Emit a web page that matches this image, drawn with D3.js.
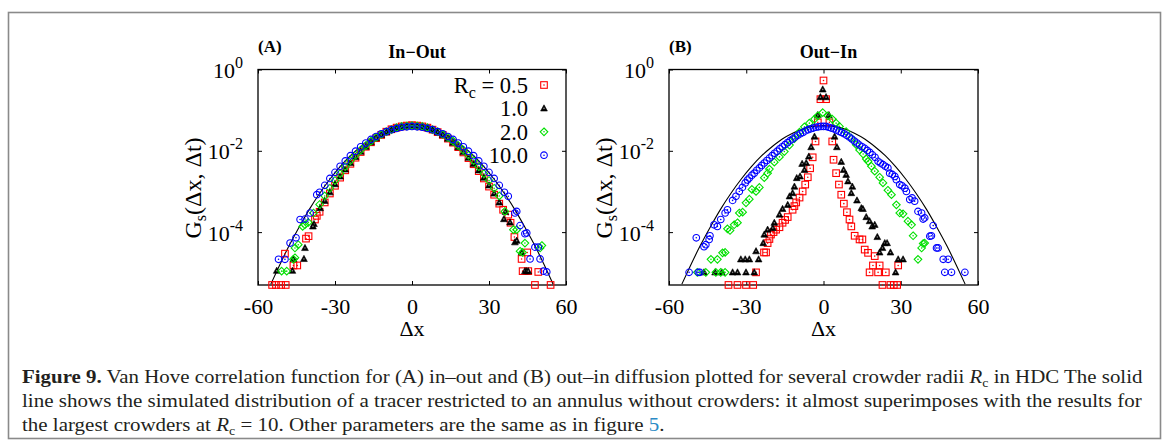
<!DOCTYPE html>
<html>
<head>
<meta charset="utf-8">
<script src="https://cdn.jsdelivr.net/npm/d3@7/dist/d3.min.js"></script>
<style>
  body { margin: 0; background: #fff; }
  svg { display: block; }
</style>
</head>
<body>
<svg id="fig" width="1168" height="446"></svg>
<script>
// Van Hove correlation, two panels (in-out / out-in)

// tick values
const xTicks = [-60, -30, 0, 30, 60];
const yTickExps = [0, -2, -4];
const legendLabels = ["0.5", "1.0", "2.0", "10.0"];

// all series: [Δx, log10 Gs]
// reference line (annulus without crowders), same in both panels
const freeLine = [[-55,-5.28],[-52,-4.87],[-48,-4.35],[-44,-3.88],[-40,-3.44],[-36,-3.05],[-32,-2.70],[-28,-2.39],[-24,-2.12],[-20,-1.90],[-16,-1.71],[-12,-1.57],[-8,-1.46],[-4,-1.40],[0,-1.38],[4,-1.40],[8,-1.46],[12,-1.57],[16,-1.71],[20,-1.90],[24,-2.12],[28,-2.39],[32,-2.70],[36,-3.05],[40,-3.44],[44,-3.88],[48,-4.35],[52,-4.87],[55,-5.28]];

// (A) In-Out
const aRc05 = [[-36,-3.50],[-34,-3.27],[-32,-3.05],[-30,-2.86],[-28,-2.66],[-26,-2.48],[-24,-2.32],[-22,-2.17],[-20,-2.03],[-18,-1.90],[-16,-1.79],[-14,-1.69],[-12,-1.61],[-10,-1.53],[-8,-1.47],[-6,-1.43],[-4,-1.40],[-2,-1.38],[0,-1.37],[2,-1.38],[4,-1.40],[6,-1.43],[8,-1.48],[10,-1.54],[12,-1.61],[14,-1.70],[16,-1.80],[18,-1.91],[20,-2.04],[22,-2.18],[24,-2.33],[26,-2.50],[28,-2.68],[30,-2.88],[32,-3.08],[34,-3.30],
  [-37.1,-3.60],[-37.8,-3.69],[-40.3,-4.10],[-41.3,-4.16],[-44.7,-4.82],[-46.2,-4.82],[-49.5,-4.53],[-54.5,-5.30],[-53,-5.30],[-51,-5.30],[-49.2,-5.30],
  [35.5,-3.45],[37.5,-3.57],[38.4,-3.77],[39.9,-4.12],[42.7,-4.66],[44.9,-4.50],[43.1,-4.96],[45.3,-4.96],[49.2,-4.98],[47.9,-5.30],[54.0,-5.30]];
const aRc1 = [[-34,-3.23],[-32,-3.02],[-30,-2.82],[-28,-2.63],[-26,-2.46],[-24,-2.30],[-22,-2.15],[-20,-2.02],[-18,-1.90],[-16,-1.79],[-14,-1.69],[-12,-1.61],[-10,-1.54],[-8,-1.48],[-6,-1.44],[-4,-1.41],[-2,-1.39],[0,-1.38],[2,-1.39],[4,-1.41],[6,-1.44],[8,-1.48],[10,-1.54],[12,-1.61],[14,-1.70],[16,-1.80],[18,-1.91],[20,-2.03],[22,-2.17],[24,-2.32],[26,-2.48],[28,-2.66],[30,-2.85],[32,-3.05],[34,-3.27],
  [-35.8,-3.41],[-38.2,-3.80],[-38.6,-3.86],[-41.7,-4.39],[-42.1,-4.66],[-46.2,-4.66],[-46.6,-4.95],[-52.7,-4.95],
  [35.8,-3.68],[36.4,-3.50],[38.2,-3.76],[40.1,-4.25],[40.8,-4.21],[42.7,-4.50],[44.0,-4.96],[44.7,-4.96],[45.3,-4.96]];
const aRc2 = [[-36,-3.32],[-34,-3.11],[-32,-2.92],[-30,-2.73],[-28,-2.56],[-26,-2.39],[-24,-2.24],[-22,-2.11],[-20,-1.98],[-18,-1.87],[-16,-1.76],[-14,-1.67],[-12,-1.60],[-10,-1.53],[-8,-1.48],[-6,-1.43],[-4,-1.40],[-2,-1.39],[0,-1.38],[2,-1.39],[4,-1.40],[6,-1.43],[8,-1.48],[10,-1.53],[12,-1.60],[14,-1.67],[16,-1.76],[18,-1.87],[20,-1.98],[22,-2.11],[24,-2.24],[26,-2.39],[28,-2.56],[30,-2.73],[32,-2.92],[34,-3.11],
  [-38.4,-3.53],[-40.4,-3.76],[-41.7,-3.82],[-42.6,-3.86],[-44.3,-4.31],[-45.6,-4.39],[-45.6,-4.63],[-46.2,-4.67],[-48.8,-4.96],[-50.8,-4.96],
  [36.2,-3.49],[39.5,-3.94],[40.8,-3.94],[42.1,-4.47],[43.1,-4.50],[44.0,-4.27],[49.9,-4.39],[50.6,-4.33]];
const aRc10 = [[-36,-3.02],[-34,-2.85],[-32,-2.68],[-30,-2.53],[-28,-2.38],[-26,-2.25],[-24,-2.12],[-22,-2.01],[-20,-1.90],[-18,-1.81],[-16,-1.72],[-14,-1.65],[-12,-1.58],[-10,-1.53],[-8,-1.48],[-6,-1.45],[-4,-1.42],[-2,-1.41],[0,-1.40],[2,-1.41],[4,-1.42],[6,-1.45],[8,-1.48],[10,-1.53],[12,-1.58],[14,-1.65],[16,-1.72],[18,-1.81],[20,-1.90],[22,-2.01],[24,-2.12],[26,-2.25],[28,-2.38],[30,-2.53],[32,-2.68],[34,-2.85],[36,-3.02],
  [-37.1,-3.08],[-39.7,-3.53],[-41.7,-3.68],[-43.6,-3.69],[-45.2,-4.14],[-47.5,-4.27],[-49.5,-4.67],[-52.0,-4.67],
  [37.5,-3.12],[40.1,-3.53],[40.8,-3.49],[42.1,-3.84],[44.0,-4.04],[44.7,-4.02],[46.0,-4.66],[47.9,-4.37],[49.2,-4.37],[49.9,-4.66],[51.2,-4.96],[52.5,-4.98]];

// (B) Out-In
const bRc05 = [[-36.9,-5.30],[-33.4,-5.30],[-30.1,-5.30],[-27.3,-5.30],[-26.2,-4.99],[-23.1,-4.50],[-22.3,-4.50],[-21.7,-4.27],[-21.0,-4.17],[-20.4,-4.06],[-19.4,-4.00],[-18.4,-3.94],[-17.1,-3.88],[-15.9,-3.77],[-14.9,-3.70],[-13.9,-3.63],[-12.0,-3.45],[-11.3,-3.36],[-10.6,-3.27],[-9.3,-3.15],[-8.1,-3.00],[-7.1,-2.83],[-6.1,-2.65],[-5.2,-2.43],[-4.2,-2.16],[-3.1,-1.77],[-2.2,-1.30],[-1.2,-0.73],[0,-0.27],[1.0,-0.73],[2.3,-1.30],[3.4,-1.77],[3.9,-2.22],[4.9,-2.55],[6.0,-2.83],[6.9,-3.08],[7.9,-3.30],[9.1,-3.51],[10.1,-3.69],[10.8,-3.86],[12.1,-4.09],[14.0,-4.18],[15.1,-4.18],[16.0,-4.43],[17.3,-4.51],[19.9,-4.59],[19.2,-4.82],[21.8,-4.82],[17.9,-4.99],[21.2,-4.99],[24.2,-4.99],[29.0,-4.82],[22.9,-5.30],[26.0,-5.30],[27.3,-5.30],[28.6,-5.30]];
const bRc1 = [[-46.4,-4.99],[-42.1,-4.99],[-39.5,-4.99],[-35.3,-4.99],[-33.4,-4.99],[-30.1,-4.99],[-26.9,-4.99],[-32.1,-4.67],[-30.4,-4.67],[-28.8,-4.67],[-25.2,-4.67],[-26.2,-4.47],[-23.4,-4.27],[-23.0,-4.06],[-21.7,-3.94],[-19.7,-3.90],[-19.1,-3.77],[-17.1,-3.57],[-15.9,-3.43],[-13.9,-3.33],[-13.2,-3.12],[-12.0,-3.04],[-11.3,-2.88],[-10.4,-2.67],[-9.1,-2.63],[-8.3,-2.32],[-7.4,-2.47],[-6.7,-2.30],[-5.7,-2.14],[-4.8,-1.91],[-3.5,-1.65],[-2.2,-1.12],[-1.2,-0.68],[-0.3,-0.49],[1.0,-0.68],[2.1,-1.12],[4.3,-1.65],[5.2,-1.91],[6.9,-2.27],[7.8,-2.47],[8.8,-2.59],[9.5,-2.75],[10.8,-3.04],[11.2,-2.88],[13.0,-3.22],[14.7,-3.41],[15.3,-3.43],[16.6,-3.63],[17.9,-3.73],[18.9,-3.86],[19.9,-3.82],[20.9,-4.12],[21.8,-4.50],[22.9,-4.39],[23.8,-4.27],[24.7,-4.27],[26.0,-4.50],[29.0,-4.67],[30.9,-4.67],[28.0,-4.99]];
const bRc2 = [[-49.0,-4.99],[-45.7,-4.99],[-41.8,-4.99],[-39.9,-4.99],[-38.2,-4.99],[-43.7,-4.67],[-41.2,-4.67],[-39.2,-4.51],[-38.2,-4.50],[-37.3,-3.92],[-36.3,-3.96],[-34.7,-3.82],[-33.4,-3.77],[-32.7,-3.53],[-31.4,-3.51],[-30.1,-3.28],[-28.8,-3.19],[-27.8,-2.95],[-26.2,-3.00],[-24.9,-2.90],[-23.0,-2.66],[-21.7,-2.55],[-21.0,-2.45],[-19.1,-2.28],[-17.1,-2.15],[-15.2,-2.02],[-13.2,-1.86],[-11.3,-1.70],[-9.3,-1.54],[-7.4,-1.41],[-5.5,-1.32],[-3.5,-1.22],[-2.2,-1.14],[-0.3,-1.06],[1.7,-1.14],[3.4,-1.22],[4.9,-1.32],[6.2,-1.40],[8.8,-1.53],[10.8,-1.69],[12.7,-1.85],[14.0,-1.98],[15.4,-2.08],[16.6,-2.20],[17.3,-2.26],[18.6,-2.38],[19.9,-2.50],[21.8,-2.65],[23.1,-2.79],[25.0,-2.97],[26.4,-3.08],[28.3,-3.33],[29.6,-3.53],[30.9,-3.55],[32.8,-3.73],[34.2,-3.82],[34.8,-4.09],[36.7,-4.67],[38.1,-4.39],[38.7,-4.28],[39.3,-4.27]];
const bRc10 = [[-52.2,-4.99],[-48.6,-4.99],[-48.0,-4.99],[-49.4,-4.14],[-46.4,-4.36],[-45.7,-4.31],[-44.4,-4.18],[-44.1,-4.09],[-42.5,-3.82],[-41.2,-3.86],[-39.9,-3.69],[-38.2,-3.53],[-37.3,-3.45],[-35.3,-3.22],[-34.0,-3.12],[-32.7,-3.00],[-31.5,-2.90],[-30.4,-2.79],[-29.5,-2.72],[-28.8,-2.67],[-27.8,-2.60],[-26.9,-2.55],[-25.9,-2.48],[-24.9,-2.42],[-24,-2.36],[-23.0,-2.30],[-22,-2.24],[-21,-2.18],[-20,-2.12],[-19,-2.06],[-18,-2.01],[-17,-1.95],[-16,-1.90],[-15,-1.85],[-14,-1.80],[-13,-1.75],[-12,-1.71],[-11,-1.66],[-10,-1.62],[-9,-1.58],[-8,-1.55],[-7,-1.51],[-6,-1.48],[-5,-1.46],[-4,-1.44],[-3,-1.42],[-2,-1.41],[-1,-1.40],[0,-1.40],[1,-1.40],[2,-1.42],[3,-1.44],[4,-1.46],[5,-1.49],[6,-1.52],[7,-1.55],[8,-1.58],[9,-1.62],[10,-1.66],[11,-1.71],[12,-1.76],[13,-1.81],[14,-1.86],[15,-1.90],[16,-1.94],[17,-1.99],[18,-2.04],[19,-2.10],[20,-2.16],[21.2,-2.26],[22.1,-2.30],[23.1,-2.34],[24.0,-2.38],[25.0,-2.42],[25.7,-2.55],[26.7,-2.58],[27.7,-2.63],[28.3,-2.71],[29.6,-2.83],[30.5,-2.86],[31.6,-2.92],[32.2,-3.00],[33.5,-3.20],[34.4,-3.16],[35.4,-3.24],[36.7,-3.49],[38.1,-3.53],[38.7,-3.68],[39.3,-3.65],[41.3,-4.10],[41.9,-4.09],[42.6,-3.84],[43.9,-4.39],[44.5,-4.39],[46.5,-4.67],[48.4,-4.67],[47.1,-4.99],[49.7,-4.99],[54.9,-4.99]];

// marker style per crowder radius (same order as legendLabels)
const markerColors = ["#ff0000", "#000000", "#00e000", "#0000ff"];
const markerShapes = ["square", "triangle", "diamond", "circle"];

const SERIF = "'Liberation Serif', 'Times New Roman', serif";
const svg = d3.select("#fig");

// outer frame of the figure
svg.append("rect")
  .attr("x", 8.5).attr("y", 12.5)
  .attr("width", 1152).attr("height", 426)
  .attr("fill", "none")
  .attr("stroke", "#8a8a8a")
  .attr("stroke-width", 1.6);

function drawMarker(sel, shape, color) {
  if (shape === "square") {
    sel.append("rect").attr("x", -3.3).attr("y", -3.3).attr("width", 6.6).attr("height", 6.6)
      .attr("fill", "none").attr("stroke", color).attr("stroke-width", 1.1);
  } else if (shape === "triangle") {
    sel.append("path").attr("d", "M0,-3.6L3.4,2.6L-3.4,2.6Z")
      .attr("fill", color).attr("stroke", color).attr("stroke-width", 0.6);
  } else if (shape === "diamond") {
    sel.append("path").attr("d", "M0,-3.8L3.8,0L0,3.8L-3.8,0Z")
      .attr("fill", "none").attr("stroke", color).attr("stroke-width", 1.1);
  } else {
    sel.append("circle").attr("r", 3.3)
      .attr("fill", "none").attr("stroke", color).attr("stroke-width", 1.1);
  }
  // little centre dot
  sel.append("circle").attr("r", 0.8).attr("fill", shape === "triangle" ? "#888" : color);
}

function drawPanel(opts) {
  const { left, right, top, bottom, tag, title, series, legend } = opts;

  const x = d3.scaleLinear().domain([-60, 60]).range([left, right]);
  const y = d3.scaleLog().domain([5e-6, 1]).range([bottom, top]);

  const g = svg.append("g");
  const clipId = "clip-" + tag;
  svg.append("clipPath").attr("id", clipId)
    .append("rect").attr("x", left).attr("y", top)
    .attr("width", right - left).attr("height", bottom - top);

  // bottom axis with labels, ticks pointing inward
  const xAxis = g.append("g")
    .attr("transform", `translate(0,${bottom})`)
    .call(d3.axisBottom(x).tickValues(xTicks).tickSize(-4).tickPadding(13).tickFormat(d => String(d)));
  xAxis.select(".domain").remove();
  xAxis.selectAll("text").attr("font-family", SERIF).attr("font-size", 22).attr("fill", "#000");

  // top axis, ticks only
  const xTop = g.append("g")
    .attr("transform", `translate(0,${top})`)
    .call(d3.axisTop(x).tickValues(xTicks).tickSize(-4).tickFormat(""));
  xTop.select(".domain").remove();

  // left axis with 10^n labels
  const yAxis = g.append("g")
    .attr("transform", `translate(${left},0)`)
    .call(d3.axisLeft(y).tickValues(yTickExps.map(e => Math.pow(10, e))).tickSize(-4).tickPadding(15).tickFormat(""));
  yAxis.select(".domain").remove();
  yAxis.selectAll(".tick").each(function(d) {
    const e = Math.round(Math.log10(d));
    const t = d3.select(this).append("text")
      .attr("x", -15).attr("y", 8)
      .attr("text-anchor", "end")
      .attr("font-family", SERIF).attr("font-size", 22).attr("fill", "#000");
    t.append("tspan").text("10");
    t.append("tspan").attr("dy", -10).attr("font-size", 16).text(String(e));
  });

  const yRight = g.append("g")
    .attr("transform", `translate(${right},0)`)
    .call(d3.axisRight(y).tickValues(yTickExps.map(e => Math.pow(10, e))).tickSize(-4).tickFormat(""));
  yRight.select(".domain").remove();

  g.selectAll(".tick line").attr("stroke", "#000").attr("stroke-width", 1);

  // plot frame
  g.append("rect")
    .attr("x", left).attr("y", top)
    .attr("width", right - left).attr("height", bottom - top)
    .attr("fill", "none").attr("stroke", "#000").attr("stroke-width", 1.3);

  // free annulus curve
  const line = d3.line()
    .x(d => x(d[0]))
    .y(d => y(Math.pow(10, d[1])))
    .curve(d3.curveMonotoneX);
  g.append("path")
    .datum(freeLine)
    .attr("clip-path", `url(#${clipId})`)
    .attr("d", line)
    .attr("fill", "none")
    .attr("stroke", "#000")
    .attr("stroke-width", 1.1);

  // scatter series
  series.forEach((data, i) => {
    const pts = g.append("g").selectAll("g")
      .data(data)
      .enter().append("g")
      .attr("transform", d => `translate(${x(d[0])},${y(Math.pow(10, d[1]))})`);
    pts.each(function() { drawMarker(d3.select(this), markerShapes[i], markerColors[i]); });
  });

  // axis titles
  g.append("text")
    .attr("x", x(0)).attr("y", bottom + 51)
    .attr("text-anchor", "middle")
    .attr("font-family", SERIF).attr("font-size", 22)
    .text("Δx");

  const yl = g.append("text")
    .attr("transform", `translate(${left - 57},188) rotate(-90)`)
    .attr("text-anchor", "middle")
    .attr("font-family", SERIF).attr("font-size", 24);
  yl.append("tspan").text("G");
  yl.append("tspan").attr("dy", 5).attr("font-size", 16).text("s");
  yl.append("tspan").attr("dy", -5).text("(Δx, Δt)");

  // panel tag and title
  g.append("text")
    .attr("x", left).attr("y", 52)
    .attr("font-family", SERIF).attr("font-size", 17).attr("font-weight", "bold")
    .text(`(${tag})`);
  g.append("text")
    .attr("x", x(0) + 5).attr("y", 58)
    .attr("text-anchor", "middle")
    .attr("font-family", SERIF).attr("font-size", 18).attr("font-weight", "bold")
    .text(title);

  // legend
  if (legend) {
    legendLabels.forEach((lab, i) => {
      const cy = 85 + i * 23.4;
      const t = g.append("text")
        .attr("x", right - 38).attr("y", cy + 8)
        .attr("text-anchor", "end")
        .attr("font-family", SERIF).attr("font-size", 22.5);
      if (i === 0) {
        t.append("tspan").text("R");
        t.append("tspan").attr("dy", 5).attr("font-size", 16).text("c");
        t.append("tspan").attr("dy", -5).text(" = " + lab);
      } else {
        t.text(lab);
      }
      const m = g.append("g").attr("transform", `translate(${right - 22},${cy})`);
      drawMarker(m, markerShapes[i], markerColors[i]);
    });
  }
}

drawPanel({ left: 258, right: 566, top: 69.5, bottom: 285, tag: "A", title: "In\u2212Out",
  series: [aRc05, aRc1, aRc2, aRc10], legend: true });
drawPanel({ left: 669, right: 978, top: 69.5, bottom: 285, tag: "B", title: "Out\u2212In",
  series: [bRc05, bRc1, bRc2, bRc10], legend: false });

// caption, three lines stretched to the column width
const capX = 22, capW = 1121;
const capLines = [
  [{ t: "Figure 9.", b: true }, { t: " Van Hove correlation function for (A) in\u2013out and (B) out\u2013in diffusion plotted for several crowder radii " },
   { t: "R", i: true }, { t: "c", sub: true }, { t: " in HDC The solid", up: true }],
  [{ t: "line shows the simulated distribution of a tracer restricted to an annulus without crowders: it almost superimposes with the results for" }],
  [{ t: "the largest crowders at " }, { t: "R", i: true }, { t: "c", sub: true }, { t: " = 10. Other parameters are the same as in figure ", up: true },
   { t: "5", link: true }, { t: "." }]
];
const capY = [383, 407, 431];
const capNodes = capLines.map((parts, k) => {
  const t = svg.append("text")
    .attr("font-family", SERIF).attr("font-size", 19.5).attr("fill", "#231f20")
    .attr("transform", `translate(${capX},${capY[k]})`);
  parts.forEach(p => {
    const s = t.append("tspan").text(p.t);
    if (p.b) s.attr("font-weight", "bold");
    if (p.i) s.attr("font-style", "italic");
    if (p.sub) s.attr("font-size", 13).attr("dy", 4);
    if (p.up) s.attr("dy", -4);
    if (p.link) s.attr("fill", "#2b8ac6");
  });
  return t;
});
// justify the first two lines, third uses their mean squeeze
const sx = capNodes.slice(0, 2).map(t => capW / t.node().getComputedTextLength());
const sAvg = (sx[0] + sx[1]) / 2;
capNodes.forEach((t, k) => {
  const s = k < 2 ? sx[k] : sAvg;
  t.attr("transform", `translate(${capX},${capY[k]}) scale(${s},1)`);
});
</script>
</body>
</html>
